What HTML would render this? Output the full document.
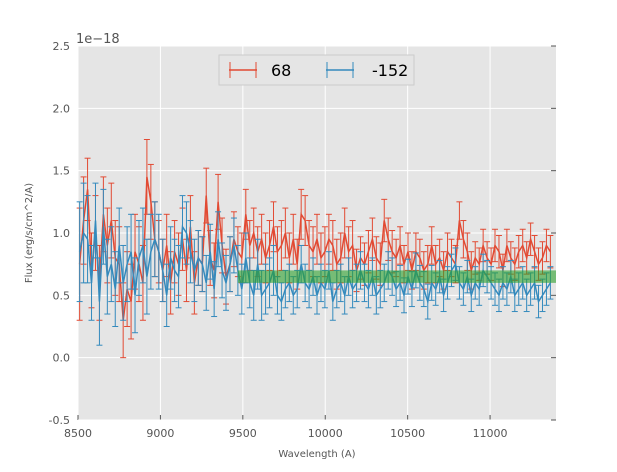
<!DOCTYPE html>
<html><head><meta charset="utf-8"><style>
body{margin:0;background:#fff;font-family:"Liberation Sans","DejaVu Sans",sans-serif}
svg text{font-family:"DejaVu Sans","Liberation Sans",sans-serif}
</style></head><body>
<svg id="c" width="617" height="467" xmlns="http://www.w3.org/2000/svg"></svg>
<script>
const wlStart=8510, wlStep=24;
const redVals=[0.75,1.1,1.35,0.7,1.0,0.6,1.15,0.9,1.1,0.8,0.75,0.3,0.55,0.45,0.85,0.75,0.6,1.45,1.25,0.95,0.85,0.7,0.9,0.6,0.85,0.75,0.95,0.7,1.05,0.6,0.8,0.75,1.3,0.8,0.7,1.25,0.9,0.65,0.75,0.95,0.85,0.8,1.15,0.9,1.0,0.85,0.95,0.8,0.9,1.05,0.85,0.9,1.0,0.8,0.95,0.75,1.15,1.1,0.9,0.85,0.95,0.8,0.85,0.95,0.9,0.75,0.8,1.0,0.85,0.9,0.7,0.8,0.75,0.85,0.95,0.8,0.75,1.1,0.95,0.85,0.8,0.9,0.75,0.85,0.7,0.85,0.8,0.7,0.75,0.9,0.75,0.8,0.7,0.85,0.8,0.75,1.1,0.95,0.85,0.7,0.8,0.75,0.9,0.8,0.75,0.9,0.85,0.7,0.9,0.8,0.75,0.85,0.9,0.8,0.95,0.85,0.75,0.8,0.9,0.85];
const redErr=[0.45,0.35,0.25,0.3,0.3,0.3,0.3,0.3,0.3,0.3,0.3,0.3,0.3,0.3,0.3,0.3,0.3,0.3,0.3,0.3,0.25,0.25,0.25,0.25,0.25,0.25,0.25,0.25,0.25,0.25,0.22,0.22,0.22,0.22,0.22,0.22,0.22,0.22,0.22,0.22,0.2,0.2,0.2,0.2,0.2,0.2,0.2,0.2,0.2,0.2,0.2,0.2,0.2,0.2,0.2,0.2,0.2,0.2,0.2,0.2,0.2,0.2,0.2,0.2,0.2,0.2,0.2,0.2,0.2,0.2,0.17,0.17,0.17,0.17,0.17,0.17,0.17,0.17,0.17,0.17,0.15,0.15,0.15,0.15,0.15,0.15,0.15,0.15,0.15,0.15,0.15,0.15,0.15,0.15,0.15,0.15,0.15,0.15,0.15,0.15,0.13,0.13,0.13,0.13,0.13,0.13,0.13,0.13,0.13,0.13,0.13,0.13,0.13,0.13,0.13,0.13,0.13,0.13,0.13,0.13];
const blueVals=[0.85,1.0,0.95,0.6,1.1,0.45,1.05,0.65,0.75,0.55,0.9,0.6,0.75,0.85,0.5,0.8,0.9,0.65,0.85,0.95,0.85,0.7,0.5,0.8,0.7,0.65,1.05,1.0,0.85,0.7,0.8,0.75,0.6,0.85,0.55,0.95,0.7,0.6,0.75,0.9,0.7,0.55,0.8,0.6,0.5,0.75,0.5,0.55,0.6,0.7,0.5,0.45,0.55,0.6,0.5,0.55,0.75,0.6,0.55,0.65,0.5,0.6,0.55,0.7,0.45,0.55,0.6,0.5,0.65,0.55,0.6,0.7,0.6,0.55,0.65,0.5,0.55,0.6,0.7,0.65,0.55,0.6,0.5,0.65,0.55,0.7,0.6,0.55,0.45,0.6,0.55,0.65,0.5,0.6,0.7,0.75,0.6,0.55,0.65,0.5,0.6,0.55,0.7,0.65,0.6,0.55,0.5,0.6,0.55,0.65,0.5,0.55,0.6,0.5,0.55,0.6,0.45,0.5,0.55,0.6];
const blueErr=[0.4,0.4,0.35,0.3,0.3,0.35,0.3,0.3,0.3,0.3,0.3,0.3,0.3,0.3,0.3,0.3,0.3,0.3,0.3,0.3,0.3,0.25,0.25,0.25,0.25,0.25,0.25,0.25,0.25,0.25,0.22,0.22,0.22,0.22,0.22,0.22,0.22,0.22,0.22,0.22,0.2,0.2,0.2,0.2,0.2,0.2,0.2,0.2,0.2,0.2,0.15,0.15,0.15,0.15,0.15,0.15,0.15,0.15,0.15,0.15,0.15,0.15,0.15,0.15,0.15,0.15,0.15,0.15,0.15,0.15,0.15,0.15,0.15,0.15,0.15,0.15,0.15,0.15,0.15,0.15,0.14,0.14,0.14,0.14,0.14,0.14,0.14,0.14,0.14,0.14,0.13,0.13,0.13,0.13,0.13,0.13,0.13,0.13,0.13,0.13,0.13,0.13,0.13,0.13,0.13,0.13,0.13,0.13,0.13,0.13,0.13,0.13,0.13,0.13,0.13,0.13,0.13,0.13,0.13,0.13];
const xTicks=[8500,9000,9500,10000,10500,11000];
const yTicks=[-0.5,0.0,0.5,1.0,1.5,2.0,2.5];
const bandX=[9470,11400], bandY=[0.6,0.7];

const L=78,R=556,T=46,B=420,xmin=8500,xmax=11400,ymin=-0.5,ymax=2.5;
const X=v=>L+(v-xmin)/(xmax-xmin)*(R-L);
const Y=v=>B-(v-ymin)/(ymax-ymin)*(B-T);
const svg=document.getElementById('c');const NS='http://www.w3.org/2000/svg';
function mk(tag,at,parent){const e=document.createElementNS(NS,tag);for(const k in at)e.setAttribute(k,at[k]);(parent||svg).appendChild(e);return e;}
const bg=mk('rect',{x:L,y:T,width:R-L,height:B-T,fill:'#e5e5e5'});


xTicks.forEach(t=>{mk('line',{x1:X(t),x2:X(t),y1:T,y2:B,stroke:'#fff','stroke-width':1});
 mk('line',{x1:X(t),x2:X(t),y1:B,y2:B-5,stroke:'#555'});
 const tx=mk('text',{x:X(t),y:B+17,'text-anchor':'middle','font-size':11,fill:'#555'});tx.textContent=t;
 
 });
yTicks.forEach(t=>{mk('line',{x1:L,x2:R,y1:Y(t),y2:Y(t),stroke:'#fff','stroke-width':1});
 mk('line',{x1:R,x2:R-5,y1:Y(t),y2:Y(t),stroke:'#555'});
 const tx=mk('text',{x:L-8,y:Y(t)+4,'text-anchor':'end','font-size':11,fill:'#555'});tx.textContent=t.toFixed(1);
 
 });
function series(vals,errs,col,name){
 const g=mk('g',{});
 
 
 let d='';
 vals.forEach((v,i)=>{const x=X(wlStart+i*wlStep);const e=errs[i];
  mk('line',{x1:x,x2:x,y1:Y(v-e),y2:Y(v+e),stroke:col,'stroke-width':1},g);
  mk('line',{x1:x-3,x2:x+3,y1:Y(v-e),y2:Y(v-e),stroke:col,'stroke-width':1},g);
  mk('line',{x1:x-3,x2:x+3,y1:Y(v+e),y2:Y(v+e),stroke:col,'stroke-width':1},g);
  d+=(i?'L':'M')+x.toFixed(1)+' '+Y(v).toFixed(1);});
 mk('path',{d:d,fill:'none',stroke:col,'stroke-width':1.5},g);
}
series(redVals,redErr,'#e24a33','series-68');
series(blueVals,blueErr,'#348abd','series-neg152');
const band=mk('rect',{x:X(bandX[0]),y:Y(bandY[1]),width:X(bandX[1])-X(bandX[0]),height:Y(bandY[0])-Y(bandY[1]),fill:'#2ca02c','fill-opacity':0.6});


const off=mk('text',{x:L-2,y:T-3,'font-size':13,fill:'#555'});off.textContent='1e\u221218';


const xl=mk('text',{x:(L+R)/2,y:457,'text-anchor':'middle','font-size':10,fill:'#555'});xl.textContent='Wavelength (A)';


const yl=mk('text',{x:0,y:0,'text-anchor':'middle','font-size':10,fill:'#555',transform:'translate(32,233) rotate(-90)'});yl.textContent='Flux (erg/s/cm^2/A)';


const lg=mk('g',{});


mk('rect',{x:219,y:55,width:195,height:30,fill:'#e5e5e5',stroke:'#ccc'},lg);
[[229,'#e24a33','68',271],[326,'#348abd','-152',372]].forEach(([x,c,t,tx])=>{
 mk('line',{x1:x,x2:x+28,y1:70,y2:70,stroke:c,'stroke-width':1.5},lg);
 mk('line',{x1:x+1,x2:x+1,y1:62,y2:78,stroke:c},lg);
 mk('line',{x1:x+27,x2:x+27,y1:62,y2:78,stroke:c},lg);
 const e=mk('text',{x:tx,y:76,'font-size':16,fill:'#000'},lg);e.textContent=t;
 
 });
</script>
</body></html>
